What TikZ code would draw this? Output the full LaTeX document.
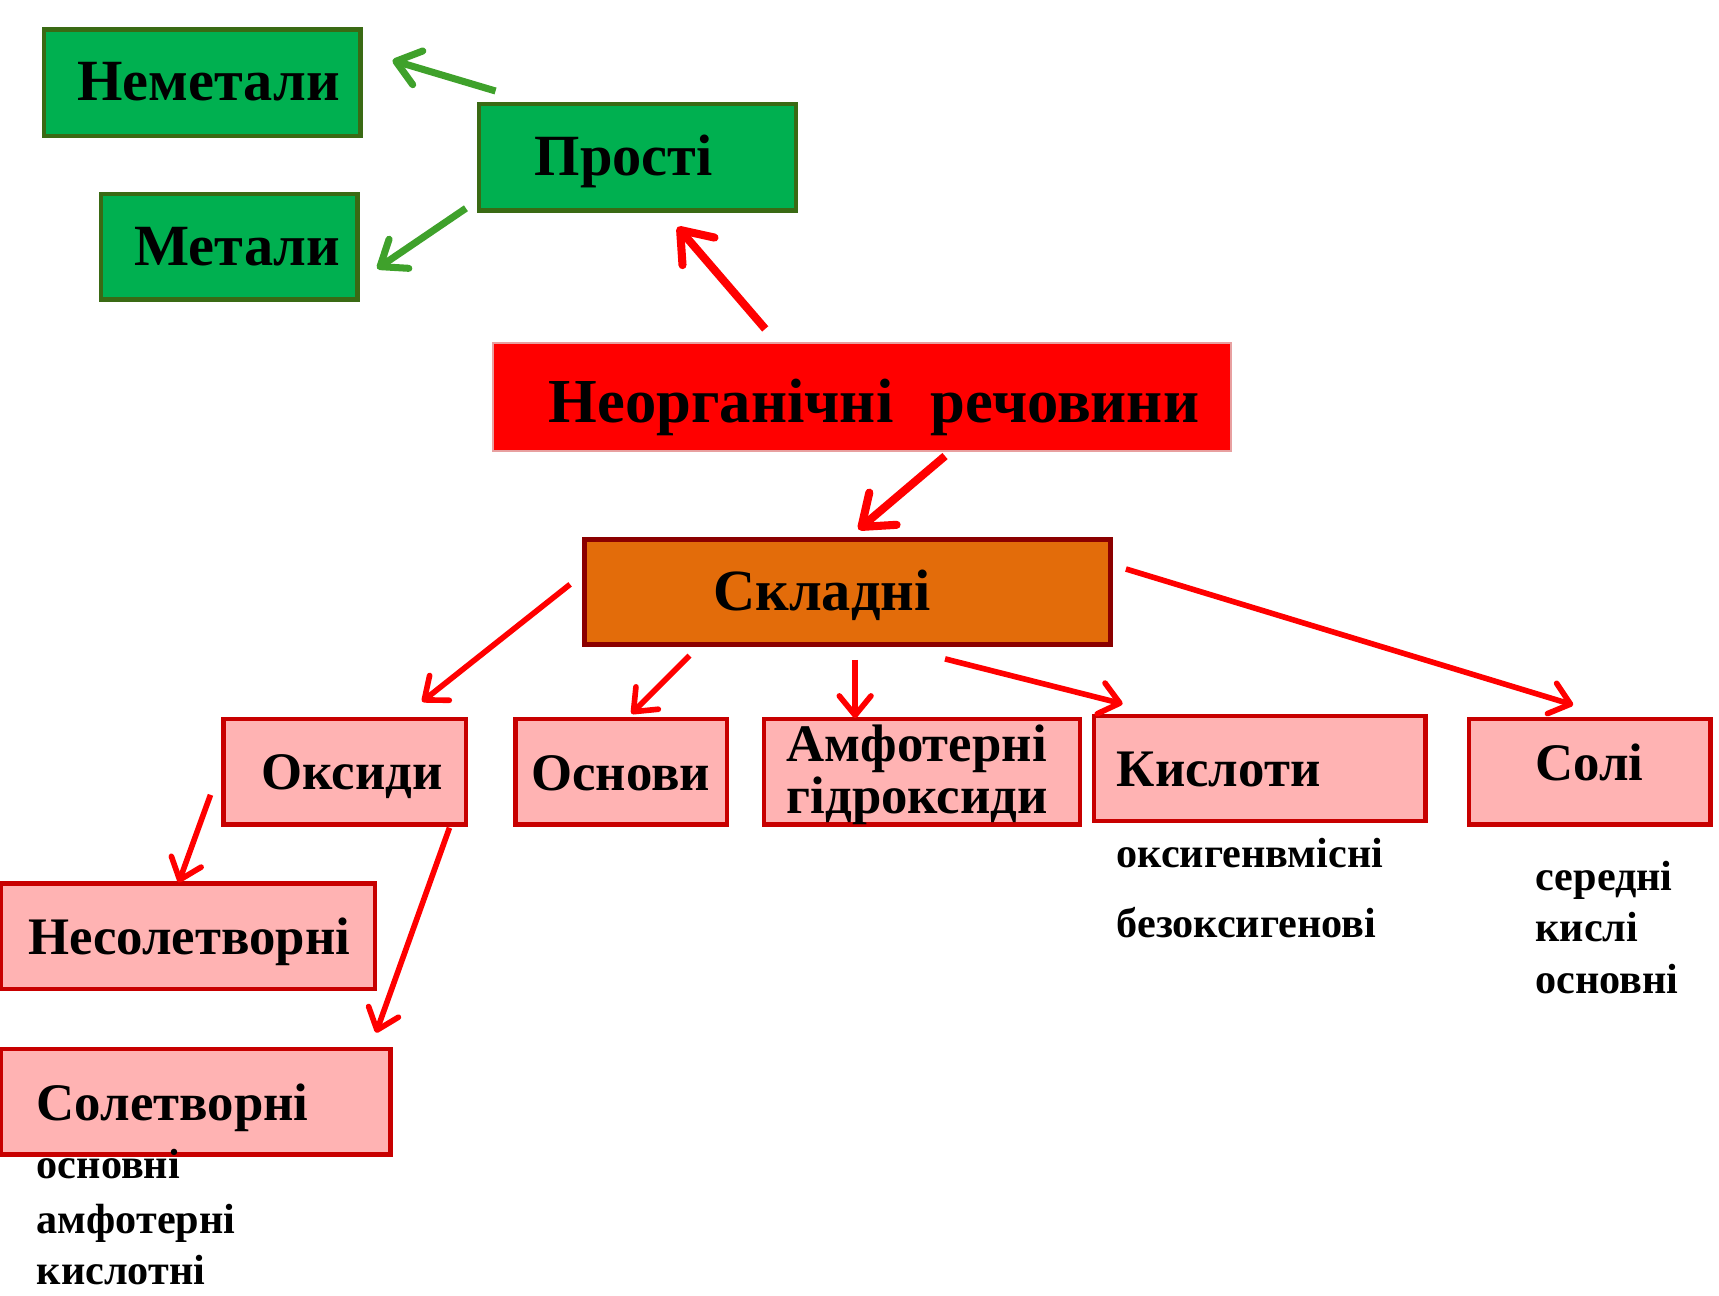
\documentclass[tikz,border=0pt]{standalone}
\usepackage{fontspec}
\setmainfont{Liberation Serif}
\usetikzlibrary{arrows.meta,fit}
\definecolor{grfill}{HTML}{00B050}
\definecolor{grline}{HTML}{3A6A14}
\definecolor{grarrow}{HTML}{3FA12B}
\definecolor{orfill}{HTML}{E36C0A}
\definecolor{orline}{HTML}{8B0000}
\definecolor{pkfill}{HTML}{FFB3B3}
\definecolor{pkline}{HTML}{C80000}
\definecolor{rdfill}{HTML}{FF0000}
\definecolor{rdline}{HTML}{E8A0A0}
\definecolor{arrred}{HTML}{FF0000}
\begin{document}
\begin{tikzpicture}[x=0.010963cm,y=-0.010963cm,
  box/.style={rectangle, inner sep=0pt},
  greenbox/.style={box, fill=grfill, draw=grline, line width=1.3pt},
  redbox/.style={box, fill=rdfill, draw=rdline, line width=0.6pt},
  orangebox/.style={box, fill=orfill, draw=orline, line width=1.5pt},
  pinkbox/.style={box, fill=pkfill, draw=pkline, line width=1.3pt},
  bigtxt/.style={anchor=base west, inner sep=0pt, font=\fontsize{16.6}{20}\selectfont\bfseries},
  hugetxt/.style={anchor=base west, inner sep=0pt, font=\fontsize{17.8}{21}\selectfont\bfseries},
  midtxt/.style={anchor=base west, inner sep=0pt, font=\fontsize{15}{18}\selectfont\bfseries},
  smalltxt/.style={anchor=base west, inner sep=0pt, font=\fontsize{12}{14}\selectfont\bfseries},
  garrow/.style={draw=grarrow, line width=2pt, -{Straight Barb[length=6.5pt,width=10pt,round]}},
  rthick/.style={draw=arrred, line width=2.3pt, -{Straight Barb[length=8pt,width=12pt,round]}},
  rthin/.style={draw=arrred, line width=1.6pt, -{Straight Barb[length=5.5pt,width=9pt,round]}}
]
\useasboundingbox (0,0) rectangle (1568,1182);

% boxes
\node[greenbox, fit={(40,27) (329,124)}] (nemet) {};
\node[greenbox, fit={(92,177) (326,273)}] (metal) {};
\node[greenbox, fit={(437,95) (726,192)}] (prosti) {};
\node[redbox, fit={(450,313) (1123,411)}] (neorg) {};
\node[orangebox, fit={(533,492) (1013,588)}] (skladni) {};
\node[pinkbox, fit={(204,656) (425,752)}] (oksydy) {};
\node[pinkbox, fit={(470,656) (663,752)}] (osnovy) {};
\node[pinkbox, fit={(697,656) (985,752)}] (amfo) {};
\node[pinkbox, fit={(998,653) (1300,749)}] (kysloty) {};
\node[pinkbox, fit={(1340,656) (1560,752)}] (soli) {};
\node[pinkbox, fit={(1,806) (342,902)}] (nesol) {};
\node[pinkbox, fit={(1,957) (356,1053)}] (solet) {};

% box texts
\node[bigtxt] (tnemet) at (70,92) {Неметали};
\node[bigtxt] (tmetal) at (122,242) {Метали};
\node[bigtxt] (tprosti) at (487,160) {Прості};
\node[hugetxt] (tneorg) at (500,385) {Неорганічні\hspace{0.35em} речовини};
\node[bigtxt] (tskladni) at (650,557) {Складні};
\node[midtxt] (toksydy) at (238,720) {Оксиди};
\node[midtxt] (tosnovy) at (484,721) {Основи};
\node[midtxt, anchor=north west, align=left, font=\fontsize{15}{12.3}\selectfont\bfseries] (tamfo) at (717,661) {Амфотерні\\гідроксиди};
\node[midtxt] (tkysloty) at (1018,717) {Кислоти};
\node[midtxt] (tsoli) at (1400,712) {Солі};
\node[midtxt] (tnesol) at (25,871) {Несолетворні};
\node[midtxt] (tsolet) at (33,1022) {Солетворні};

% free texts
\node[smalltxt] (s1) at (33,1075) {основні};
\node[smalltxt] (s2) at (33,1125) {амфотерні};
\node[smalltxt] (s3) at (33,1172) {кислотні};
\node[smalltxt] (k1) at (1018,791) {оксигенвмісні};
\node[smalltxt] (k2) at (1018,855) {безоксигенові};
\node[smalltxt] (c1) at (1400,812) {середні};
\node[smalltxt] (c2) at (1400,859) {кислі};
\node[smalltxt] (c3) at (1400,906) {основні};

% connector end points
\coordinate (g1s) at (452,83);  \coordinate (g1e) at (358,55);
\coordinate (g2s) at (425,190); \coordinate (g2e) at (344,245);
\coordinate (r1s) at (698,300); \coordinate (r1e) at (618,207);
\coordinate (r2s) at (862,416); \coordinate (r2e) at (783,483);
\coordinate (a1s) at (520,533); \coordinate (a1e) at (385,640);
\coordinate (a2s) at (629,598); \coordinate (a2e) at (576,651);
\coordinate (a3s) at (780,602); \coordinate (a3e) at (780,655);
\coordinate (a4s) at (862,601); \coordinate (a4e) at (1024,642);
\coordinate (a5s) at (1027,519); \coordinate (a5e) at (1435,643);
\coordinate (o1s) at (192,725); \coordinate (o1e) at (163,805);
\coordinate (o2s) at (410,755); \coordinate (o2e) at (343,942);

\draw[garrow] (g1s) -- (g1e);
\draw[garrow] (g2s) -- (g2e);
\draw[rthick] (r1s) -- (r1e);
\draw[rthick] (r2s) -- (r2e);
\draw[rthin] (a1s) -- (a1e);
\draw[rthin] (a2s) -- (a2e);
\draw[rthin] (a3s) -- (a3e);
\draw[rthin] (a4s) -- (a4e);
\draw[rthin] (a5s) -- (a5e);
\draw[rthin] (o1s) -- (o1e);
\draw[rthin] (o2s) -- (o2e);
\end{tikzpicture}
\end{document}
